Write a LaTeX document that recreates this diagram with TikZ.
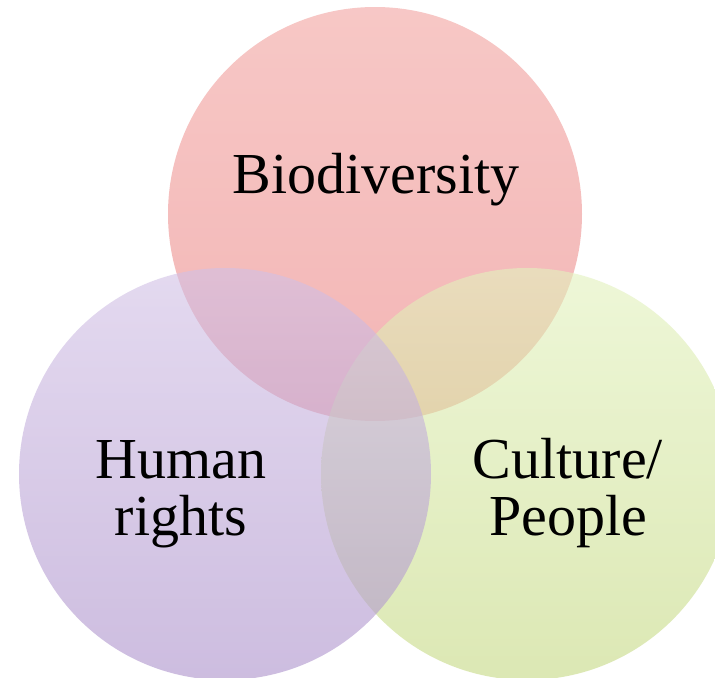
\documentclass[tikz,border=0pt]{standalone}
\usepackage{fontspec}
\setmainfont{Liberation Serif}
\usepackage{tikz}
\usetikzlibrary{shapes, positioning}

\definecolor{biotop}{RGB}{242,163,160}
\definecolor{biobot}{RGB}{235,132,132}
\definecolor{humtop}{RGB}{210,193,230}
\definecolor{humbot}{RGB}{172,145,203}
\definecolor{cultop}{RGB}{227,242,190}
\definecolor{culbot}{RGB}{197,217,130}

\begin{document}
\begin{tikzpicture}[x=0.75pt, y=-0.75pt]

\tikzstyle{set} = [circle, inner sep=0pt, minimum size=309pt, fill opacity=0.6]
\tikzstyle{label} = [align=center, anchor=base, text=black,
  font=\fontsize{43.5pt}{42.75pt}\selectfont]

\useasboundingbox (0, 0) rectangle (715, 678);
\fill[white] (0, 0) rectangle (715, 678);
\clip (0, 0) rectangle (715, 678);

% Make circles
\node (bio) [set, minimum size=310.5pt, top color=biotop, bottom color=biobot] at (375, 214) {};
\node (cul) [set, top color=cultop, bottom color=culbot] at (527, 474) {};
\node (hum) [set, top color=humtop, bottom color=humbot] at (225, 474) {};

% Labels
\node (biotext) [label] at (376, 193) {Biodiversity};
\node (humtext) [label] at (181, 535) {Human\\rights};
\node (cultext) [label] at (568, 535) {Culture/\\People};

\end{tikzpicture}
\end{document}
